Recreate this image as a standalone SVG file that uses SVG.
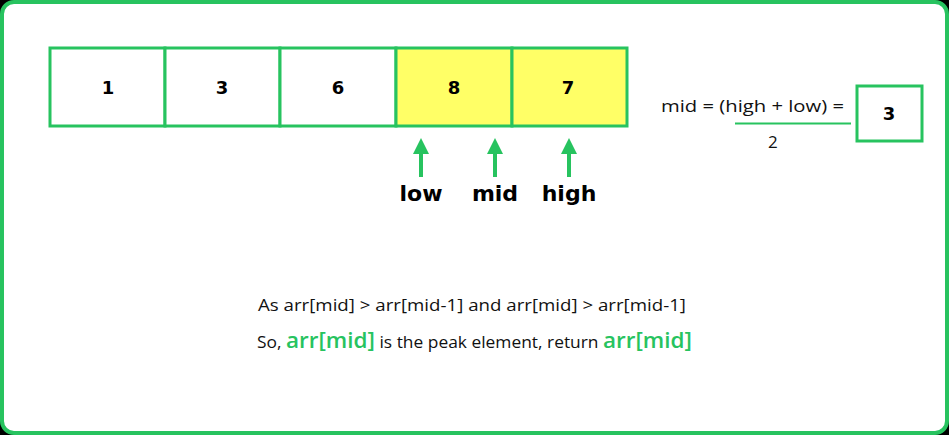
<svg xmlns="http://www.w3.org/2000/svg" width="949" height="435" viewBox="0 0 949 435">
<style>
.c{fill:#fff;stroke:#27c35f;stroke-width:3}
.y{fill:#ffff66;stroke:#27c35f;stroke-width:3}
.n{font-family:"DejaVu Sans",sans-serif;font-weight:bold;font-size:18px;text-anchor:middle}
.l{font-family:"DejaVu Sans",sans-serif;font-weight:bold;font-size:22px;text-anchor:middle}
.t{font-family:"Open Sans",sans-serif;font-size:17px;fill:#111}
.a{stroke:#27c35f;stroke-width:4}
</style>
<defs><marker id="ah" markerWidth="4" markerHeight="4" refX="2" refY="2" orient="auto" markerUnits="strokeWidth"><path d="M0,0 L4,2 L0,4z" fill="#27c35f"/></marker></defs>
<rect width="949" height="435" fill="#000"/>
<rect x="2" y="2" width="945" height="431" rx="12" fill="#fff" stroke="#27c35f" stroke-width="4"/>
<g id="cell1"><rect class="c" x="50" y="48" width="115" height="78"/><text class="n" x="108" y="94">1</text></g>
<g id="cell2"><rect class="c" x="165" y="48" width="115" height="78"/><text class="n" x="222" y="94">3</text></g>
<g id="cell3"><rect class="c" x="280" y="48" width="116" height="78"/><text class="n" x="338" y="94">6</text></g>
<g id="cell4"><rect class="y" x="396" y="48" width="116" height="78"/><text class="n" x="454" y="94">8</text></g>
<g id="cell5"><rect class="y" x="512" y="48" width="115" height="78"/><text class="n" x="568" y="94">7</text></g>
<g id="connectors">
<line class="a" x1="421" y1="177" x2="421" y2="146" marker-end="url(#ah)"/>
<line class="a" x1="495" y1="177" x2="495" y2="146" marker-end="url(#ah)"/>
<line class="a" x1="569" y1="177" x2="569" y2="146" marker-end="url(#ah)"/>
</g>
<g id="labels">
<text class="l" x="421" y="201">low</text>
<text class="l" x="495" y="201">mid</text>
<text class="l" x="569" y="201">high</text>
</g>
<g id="formula">
<text class="t" x="661" y="112" font-size="19" textLength="183" lengthAdjust="spacingAndGlyphs">mid = (high + low) =</text>
<line x1="735" y1="123.5" x2="851" y2="123.5" stroke="#27c35f" stroke-width="2"/>
<text class="t" x="768" y="148" font-size="19">2</text>
</g>
<g id="result"><rect class="c" x="857" y="86" width="65" height="55"/><text class="n" x="889" y="120">3</text></g>
<g id="text">
<text class="t" x="258" y="311" font-size="17.5" textLength="428" lengthAdjust="spacingAndGlyphs">As arr[mid] &gt; arr[mid-1] and arr[mid] &gt; arr[mid-1]</text>
<text class="t" x="257" y="348" font-size="17.5" textLength="435" lengthAdjust="spacingAndGlyphs">So, <tspan fill="#27c35f" font-size="22" font-weight="600">arr[mid]</tspan> is the peak element, return <tspan fill="#27c35f" font-size="22" font-weight="600">arr[mid]</tspan></text>
</g>
</svg>
